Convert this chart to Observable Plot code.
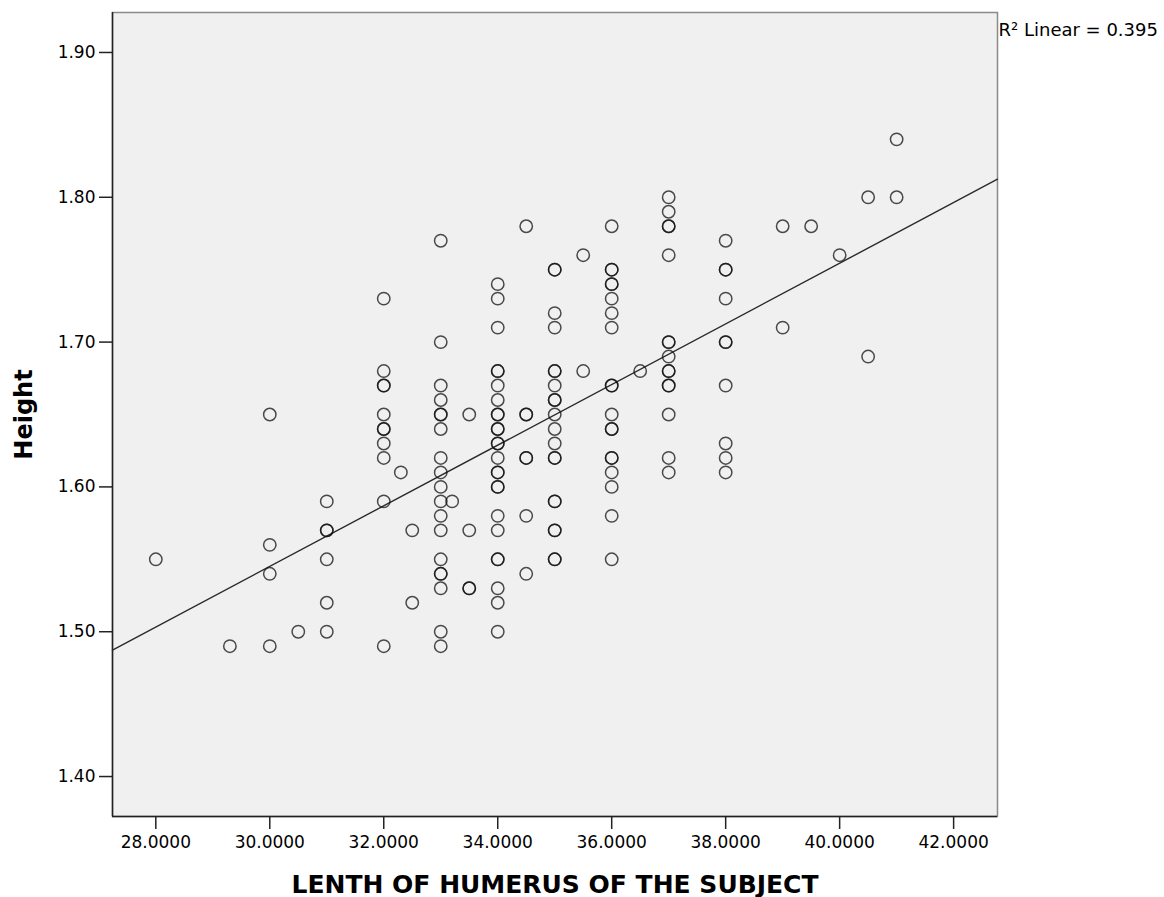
<!DOCTYPE html>
<html>
<head>
<meta charset="utf-8">
<script src="https://cdn.jsdelivr.net/npm/d3@7"></script>
<script src="https://cdn.jsdelivr.net/npm/@observablehq/plot@0.6"></script>
<style>
  html, body { margin: 0; padding: 0; background: #ffffff; }
  #chart svg { display: block; }
</style>
</head>
<body>
<div id="chart"></div>
<script>
// Humerus length (x) and height (y) for each subject.
const humerus = [
  28,
  29.3,
  30, 30, 30, 30,
  30.5,
  31, 31, 31, 31, 31, 31,
  32, 32, 32, 32, 32, 32, 32, 32, 32, 32, 32,
  32.3,
  32.5, 32.5,
  33, 33, 33, 33, 33, 33, 33, 33, 33, 33, 33, 33, 33, 33, 33, 33, 33, 33, 33,
  33.2,
  33.5, 33.5, 33.5, 33.5,
  34, 34, 34, 34, 34, 34, 34, 34, 34, 34, 34, 34, 34, 34, 34, 34, 34, 34, 34, 34, 34, 34, 34, 34, 34,
  34.5, 34.5, 34.5, 34.5, 34.5, 34.5, 34.5,
  35, 35, 35, 35, 35, 35, 35, 35, 35, 35, 35, 35, 35, 35, 35, 35, 35, 35, 35, 35,
  35.5, 35.5,
  36, 36, 36, 36, 36, 36, 36, 36, 36, 36, 36, 36, 36, 36, 36, 36, 36, 36, 36,
  36.5,
  37, 37, 37, 37, 37, 37, 37, 37, 37, 37, 37, 37, 37, 37, 37,
  38, 38, 38, 38, 38, 38, 38, 38, 38, 38,
  39, 39,
  39.5,
  40,
  40.5, 40.5,
  41, 41
];
const height = [
  1.55,
  1.49,
  1.65, 1.56, 1.54, 1.49,
  1.50,
  1.59, 1.57, 1.57, 1.55, 1.52, 1.50,
  1.73, 1.68, 1.67, 1.67, 1.65, 1.64, 1.64, 1.63, 1.62, 1.59, 1.49,
  1.61,
  1.57, 1.52,
  1.77, 1.70, 1.67, 1.66, 1.65, 1.65, 1.64, 1.62, 1.61, 1.60, 1.59, 1.58, 1.57, 1.55, 1.54, 1.54, 1.53, 1.50, 1.49,
  1.59,
  1.65, 1.57, 1.53, 1.53,
  1.74, 1.73, 1.71, 1.68, 1.68, 1.67, 1.66, 1.65, 1.65, 1.64, 1.64, 1.63, 1.63, 1.62, 1.61, 1.61, 1.60, 1.60, 1.58, 1.57, 1.55, 1.55, 1.53, 1.52, 1.50,
  1.78, 1.65, 1.65, 1.62, 1.62, 1.58, 1.54,
  1.75, 1.75, 1.72, 1.71, 1.68, 1.68, 1.67, 1.66, 1.66, 1.65, 1.64, 1.63, 1.62, 1.62, 1.59, 1.59, 1.57, 1.57, 1.55, 1.55,
  1.76, 1.68,
  1.78, 1.75, 1.75, 1.74, 1.74, 1.73, 1.72, 1.71, 1.67, 1.67, 1.65, 1.64, 1.64, 1.62, 1.62, 1.61, 1.60, 1.58, 1.55,
  1.68,
  1.80, 1.79, 1.78, 1.78, 1.76, 1.70, 1.70, 1.69, 1.68, 1.68, 1.67, 1.67, 1.65, 1.62, 1.61,
  1.77, 1.75, 1.75, 1.73, 1.70, 1.70, 1.67, 1.63, 1.62, 1.61,
  1.78, 1.71,
  1.78,
  1.76,
  1.80, 1.69,
  1.84, 1.80
];
const xTicks = [28, 30, 32, 34, 36, 38, 40, 42];
const yTicks = [1.40, 1.50, 1.60, 1.70, 1.80, 1.90];
const xDomain = [27.24, 42.77];
const yDomain = [1.3724, 1.9276];
const xTitle = "LENTH OF HUMERUS OF THE SUBJECT";
const yTitle = "Height";
const fitLabel = "R\u00B2 Linear = 0.395";

const n = Math.min(humerus.length, height.length);
const points = d3.range(n).map(i => ({x: humerus[i], y: height[i]}));

// least-squares fit line drawn across the whole x domain
const mx = d3.mean(points, d => d.x), my = d3.mean(points, d => d.y);
const slope = d3.sum(points, d => (d.x - mx) * (d.y - my)) / d3.sum(points, d => (d.x - mx) ** 2);
const intercept = my - slope * mx;
const fit = xDomain.map(x => ({x, y: intercept + slope * x}));

const font = "'DejaVu Sans', sans-serif";

const chart = Plot.plot({
  width: 1164,
  height: 897,
  marginLeft: 112,
  marginRight: 167,
  marginTop: 12,
  marginBottom: 81,
  style: {fontFamily: font, fontSize: "17px", color: "#000", background: "#fff"},
  x: {domain: xDomain, label: null},
  y: {domain: yDomain, label: null},
  marks: [
    Plot.frame({fill: "#f0f0f0", stroke: "#8a8a8a", strokeWidth: 1.5}),
    Plot.ruleX([xDomain[0]], {stroke: "#222", strokeWidth: 1.5}),
    Plot.ruleY([yDomain[0]], {stroke: "#222", strokeWidth: 1.5}),
    Plot.axisX({ticks: xTicks, tickFormat: d => d.toFixed(4), tickSize: 13, tickPadding: 6, label: null, fontSize: 17, stroke: "#222", strokeWidth: 1.5}),
    Plot.axisY({ticks: yTicks, tickFormat: d => d.toFixed(2), tickSize: 13, tickPadding: 4, label: null, fontSize: 17, stroke: "#222", strokeWidth: 1.5}),
    Plot.line(fit, {x: "x", y: "y", stroke: "#2a2a2a", strokeWidth: 1.4}),
    Plot.dot(points, {x: "x", y: "y", r: 6.2, fill: "none", stroke: "#111", strokeWidth: 1.5, strokeOpacity: 0.75}),
    Plot.text([fitLabel], {frameAnchor: "top-right", textAnchor: "start", lineAnchor: "middle", dx: 1, dy: 18, fontSize: 18, fill: "#000"}),
    Plot.text([xTitle], {frameAnchor: "bottom", textAnchor: "middle", lineAnchor: "middle", dy: 68, fontSize: 25, fontWeight: "bold", fill: "#000"}),
    Plot.text([yTitle], {frameAnchor: "left", textAnchor: "middle", rotate: -90, lineAnchor: "middle", dx: -88, fontSize: 24, fontWeight: "bold", fill: "#000"})
  ]
});
document.getElementById("chart").appendChild(chart);
</script>
</body>
</html>
